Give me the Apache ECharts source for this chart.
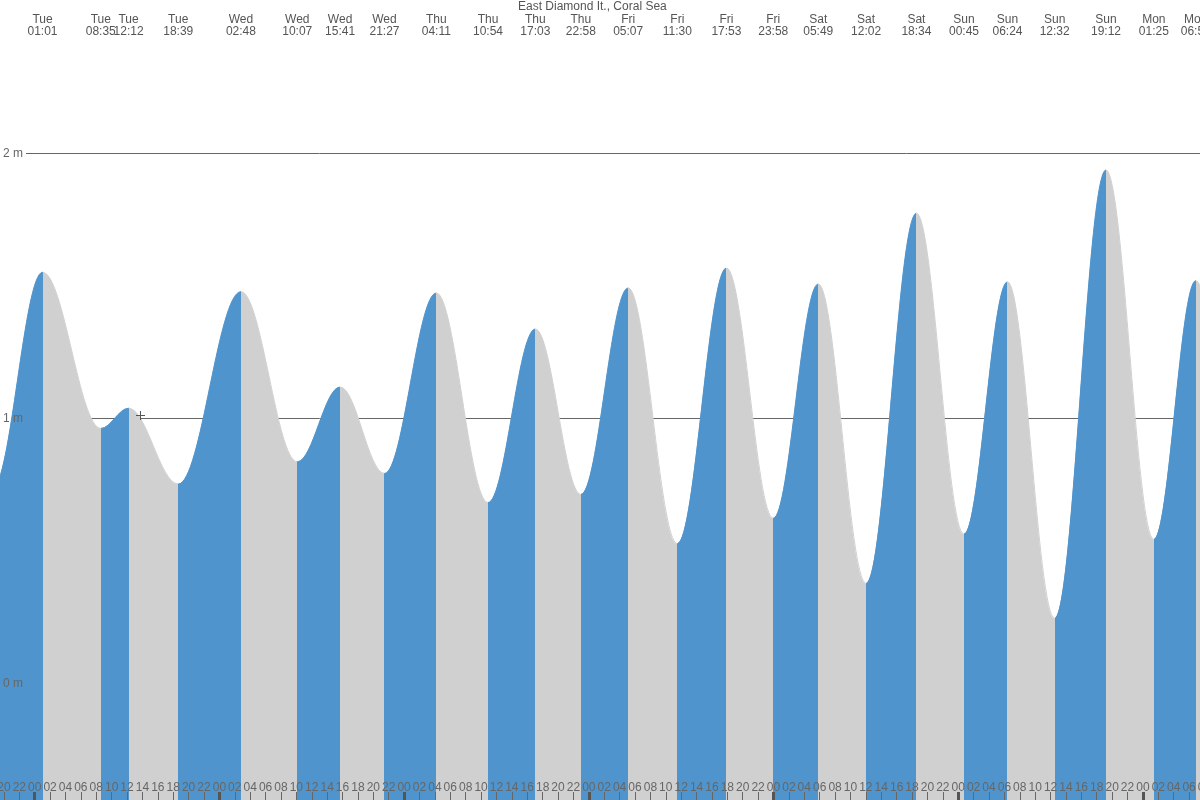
<!DOCTYPE html>
<html>
<head>
<meta charset="utf-8">
<script src="https://cdn.jsdelivr.net/npm/echarts@6/dist/echarts.min.js"></script>
<style>
html,body{margin:0;padding:0;background:#ffffff;}
#chart{width:1200px;height:800px;}
</style>
</head>
<body>
<div id="chart"></div>
<script>
// ---------------- data ----------------
const titleText = 'East Diamond It., Coral Sea';
const dayNames = ['Tue', 'Wed', 'Thu', 'Fri', 'Sat', 'Sun', 'Mon'];

// tide extremes (labelled at the top of the chart)
const extremeDays = ['Tue','Tue','Tue','Tue','Wed','Wed','Wed','Wed','Thu','Thu','Thu','Thu',
  'Fri','Fri','Fri','Fri','Sat','Sat','Sat','Sun','Sun','Sun','Sun','Mon','Mon'];
const extremeTimes = ['01:01','08:35','12:12','18:39','02:48','10:07','15:41','21:27','04:11','10:54','17:03','22:58',
  '05:07','11:30','17:53','23:58','05:49','12:02','18:34','00:45','06:24','12:32','19:12','01:25','06:52'];
const extremeHeights = [1.551,0.962,1.038,0.752,1.478,0.836,1.118,0.792,1.473,0.682,1.337,0.713,
  1.492,0.527,1.567,0.623,1.507,0.377,1.774,0.563,1.515,0.245,1.937,0.543,1.519];

// extremes just outside the visible window (hours from Tue 00:00), estimated from the curve at the edges
const leadInHours = [-12, -5.5];
const leadInHeights = [1.00, 0.735];
const leadOutHours = [157.3];
const leadOutHeights = [0.35];

// axis ticks
const midnightHours = [0, 24, 48, 72, 96, 120, 144];
const heightTickUnit = 'm';

const risingColor = '#4F94CD';
const fallingColor = '#D0D0D0';
const FONT = "'Liberation Sans', Arial, Helvetica, sans-serif";

// ---------------- derived ----------------
function toHours(day, time) {
  const p = time.split(':').map(Number);
  return dayNames.indexOf(day) * 24 + p[0] + p[1] / 60;
}
const extremeHours = extremeDays.map((d, i) => toHours(d, extremeTimes[i]));
const allHours = leadInHours.concat(extremeHours, leadOutHours);
const allHeights = leadInHeights.concat(extremeHeights, leadOutHeights);
const seriesData = allHours.map((t, i) => [t, allHeights[i]]);

const pieces = [];
for (let i = 0; i < allHours.length - 1; i++) {
  const piece = { gte: allHours[i], color: allHeights[i + 1] > allHeights[i] ? risingColor : fallingColor };
  if (i === allHours.length - 2) piece.lte = allHours[i + 1]; else piece.lt = allHours[i + 1];
  pieces.push(piece);
}

function topLabel(v) {
  let best = 0, bd = Infinity;
  extremeHours.forEach((t, i) => { const d = Math.abs(t - v); if (d < bd) { bd = d; best = i; } });
  return extremeDays[best] + '\n' + extremeTimes[best];
}
function hourLabel(v) {
  const h = ((Math.round(v) % 24) + 24) % 24;
  return (h < 10 ? '0' : '') + h;
}

// ---------------- chart ----------------
const chart = echarts.init(document.getElementById('chart'), null, { renderer: 'canvas' });
const X_MIN = -6, X_MAX = 152;
const Y_MIN = -1, Y_MAX = 3;

const option = {
  animation: false,
  textStyle: { fontFamily: FONT },
  title: {
    text: titleText, left: 518, top: 1, padding: 0,
    textStyle: { fontSize: 12, fontWeight: 'normal', color: '#555', fontFamily: FONT }
  },
  grid: [
    { left: -11.48, right: -4.49, top: -111.7, bottom: -148.3, outerBoundsMode: 'none', containLabel: false },
    { left: 26, right: 0, top: -111.7, bottom: -148.3, outerBoundsMode: 'none', containLabel: false },
    { left: -11.48, right: -4.49, top: 0, bottom: 0, outerBoundsMode: 'none', containLabel: false }
  ],
  xAxis: [
    { gridIndex: 0, type: 'value', min: X_MIN, max: X_MAX, position: 'bottom', show: false },
    { gridIndex: 1, type: 'value', min: 0, max: 1, position: 'bottom', show: false },
    {
      gridIndex: 2, type: 'value', min: X_MIN, max: X_MAX, interval: 2, position: 'bottom', z: 5,
      axisLine: { show: false }, splitLine: { show: false },
      axisTick: { inside: true, length: 8, lineStyle: { color: '#666', width: 1 } },
      axisLabel: { inside: true, margin: 6, formatter: hourLabel, color: '#666', fontSize: 12, fontFamily: FONT,
        showMinLabel: true, showMaxLabel: true }
    },
    {
      gridIndex: 2, type: 'value', min: X_MIN, max: X_MAX, position: 'bottom', z: 6,
      axisLine: { show: false }, splitLine: { show: false },
      axisTick: { inside: true, length: 8, customValues: midnightHours, lineStyle: { color: '#555', width: 3 } },
      axisLabel: { show: false }
    },
    {
      gridIndex: 2, type: 'value', min: X_MIN, max: X_MAX, position: 'top', z: 5,
      axisLine: { show: false }, axisTick: { show: false }, splitLine: { show: false },
      axisLabel: { inside: true, margin: 14, customValues: extremeHours, formatter: topLabel,
        lineHeight: 12, color: '#555', fontSize: 12, fontFamily: FONT, align: 'center' }
    }
  ],
  yAxis: [
    { gridIndex: 0, type: 'value', min: Y_MIN, max: Y_MAX, position: 'left', show: false },
    {
      gridIndex: 1, type: 'value', min: Y_MIN, max: Y_MAX, interval: 1, position: 'left', z: 0,
      axisLine: { show: false }, axisTick: { show: false }, axisLabel: { show: false },
      splitLine: { show: true, lineStyle: { color: '#666', width: 1 } }
    },
    {
      gridIndex: 1, type: 'value', min: Y_MIN, max: Y_MAX, interval: 1, position: 'left', z: 5,
      axisLine: { show: false }, axisTick: { show: false }, splitLine: { show: false },
      axisLabel: { margin: 3, formatter: v => v + ' ' + heightTickUnit, color: '#666', fontSize: 12, fontFamily: FONT }
    },
    { gridIndex: 2, type: 'value', min: 0, max: 1, position: 'left', show: false }
  ],
  visualMap: {
    type: 'piecewise', show: false, dimension: 0, seriesIndex: 0, pieces: pieces
  },
  series: [{
    type: 'line', xAxisIndex: 0, yAxisIndex: 0, data: seriesData,
    smooth: 0.365, smoothMonotone: 'x', showSymbol: false, symbol: 'none', silent: true,
    lineStyle: { width: 1 },
    areaStyle: { opacity: 1, origin: 'start' },
    z: 2
  }],
  graphic: [
    { type: 'line', z: 100, shape: { x1: 136, y1: 415.5, x2: 145, y2: 415.5 }, style: { stroke: '#555', lineWidth: 1 } },
    { type: 'line', z: 100, shape: { x1: 140.5, y1: 411, x2: 140.5, y2: 420 }, style: { stroke: '#555', lineWidth: 1 } }
  ]
};
chart.setOption(option);
</script>
</body>
</html>
